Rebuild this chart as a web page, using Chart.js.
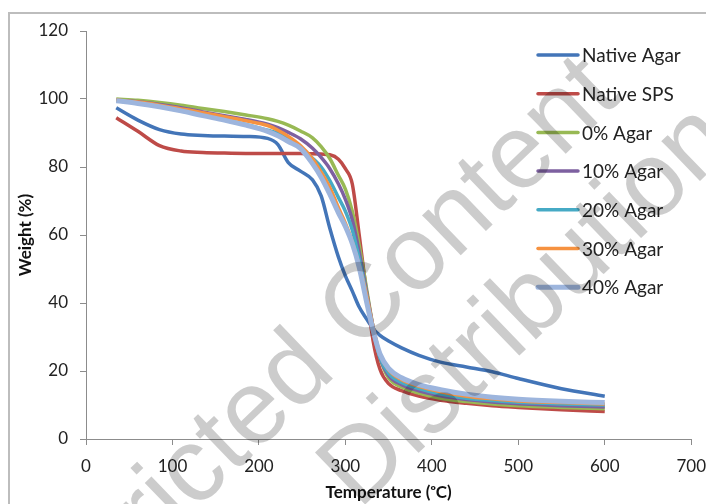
<!DOCTYPE html>
<html>
<head>
<meta charset="utf-8">
<script src="https://cdn.jsdelivr.net/npm/chart.js@4.4.1/dist/chart.umd.min.js"></script>
<style>
  html, body { margin: 0; padding: 0; background: #fff; overflow: hidden; }
  canvas { display: block; }
</style>
</head>
<body>
<!-- a little wider than the window: the figure is cut off at the right edge -->
<canvas id="tgaChart" width="717" height="504"></canvas>
<script>
// temperature (oC)
const temps = [35, 60, 85, 110, 135, 160, 185, 210, 222, 234, 248, 262, 272, 282, 292, 300, 308, 316, 324, 332, 340, 350, 365, 385, 410, 440, 470, 500, 550, 600];

// weight (%) for each sample
const nativeAgar = [97.4, 93.8, 91.0, 89.7, 89.3, 89.1, 89.0, 88.4, 86.6, 81.3, 78.8, 76.2, 71.5, 62.0, 53.5, 48.0, 43.5, 38.8, 35.5, 32.5, 30.5, 28.8, 26.8, 24.6, 22.6, 21.2, 19.8, 17.8, 14.8, 12.6];
const nativeSPS  = [94.5, 90.5, 86.3, 84.7, 84.3, 84.1, 84.0, 84.0, 84.0, 84.0, 84.0, 83.9, 83.8, 83.6, 82.3, 79.5, 75.0, 60.0, 44.0, 29.0, 20.5, 16.3, 14.2, 12.6, 11.4, 10.5, 9.8, 9.3, 8.6, 8.1];
const agar0      = [100.0, 99.6, 99.0, 98.2, 97.2, 96.3, 95.3, 94.2, 93.4, 92.3, 90.6, 88.6, 86.0, 82.5, 77.5, 73.5, 67.0, 57.0, 45.0, 33.0, 24.0, 18.0, 15.3, 13.5, 12.0, 11.0, 10.3, 9.8, 9.3, 8.9];
const agar10     = [99.6, 99.2, 98.4, 97.4, 96.2, 95.1, 94.0, 92.6, 91.6, 90.2, 88.3, 85.5, 82.8, 79.5, 75.0, 70.5, 64.5, 55.0, 44.0, 33.0, 24.0, 18.7, 16.0, 14.2, 12.7, 11.6, 10.9, 10.4, 9.8, 9.4];
const agar20     = [99.5, 98.8, 97.8, 96.6, 95.2, 93.9, 92.5, 90.8, 90.0, 88.5, 85.8, 82.6, 80.0, 76.0, 71.0, 67.0, 61.5, 53.0, 43.0, 32.0, 24.0, 19.3, 16.6, 14.8, 13.2, 12.0, 11.3, 10.8, 10.3, 10.0];
const agar30     = [99.7, 99.1, 98.2, 97.1, 96.0, 94.8, 93.6, 92.2, 90.8, 89.0, 86.3, 82.4, 78.5, 74.0, 68.0, 63.5, 58.0, 51.0, 43.0, 33.0, 25.0, 20.3, 17.4, 15.5, 13.9, 12.6, 11.8, 11.2, 10.7, 10.3];
const agar40     = [99.5, 98.7, 97.7, 96.5, 95.1, 93.8, 92.3, 90.5, 89.2, 87.5, 85.5, 81.0, 77.0, 72.0, 66.5, 62.5, 57.5, 50.5, 41.0, 32.0, 25.0, 20.8, 18.0, 16.0, 14.5, 13.2, 12.3, 11.7, 11.1, 10.7];

const seriesNames = ['Native Agar', 'Native SPS', '0% Agar', '10% Agar', '20% Agar', '30% Agar', '40% Agar'];
const seriesValues = [nativeAgar, nativeSPS, agar0, agar10, agar20, agar30, agar40];
const seriesColors = ['#4375B8', '#BE4B48', '#98B954', '#7D60A0', '#46AAC5', '#F69240', '#9DB5DD'];
const seriesWidths = [3.5, 3.5, 3.5, 3.5, 3.5, 3.5, 5];

const xTicks = [0, 100, 200, 300, 400, 500, 600, 700];
const yTicks = [0, 20, 40, 60, 80, 100, 120];

Chart.defaults.font.family = 'Lato, "Open Sans", sans-serif';
Chart.defaults.color = '#222';

// white page + grey frame around the figure
const frame = {
  id: 'frame',
  beforeDraw(chart) {
    const ctx = chart.ctx;
    ctx.save();
    ctx.fillStyle = '#fff';
    ctx.fillRect(0, 0, chart.width, chart.height);
    ctx.strokeStyle = '#bdbdbd';
    ctx.lineWidth = 2;
    ctx.strokeRect(9, 13, chart.width + 20, chart.height + 20);
    ctx.restore();
  }
};

// legend sits inside the plot, top right
const legendRows = {
  id: 'legendRows',
  afterDatasetsDraw(chart) {
    const ctx = chart.ctx;
    ctx.save();
    ctx.font = '19px Lato, "Open Sans", sans-serif';
    ctx.textBaseline = 'middle';
    ctx.lineCap = 'round';
    chart.data.datasets.forEach((ds, i) => {
      const y = 55 + i * 38.7;
      ctx.strokeStyle = ds.borderColor;
      ctx.lineWidth = ds.borderWidth;
      ctx.beginPath();
      ctx.moveTo(538, y);
      ctx.lineTo(578, y);
      ctx.stroke();
      ctx.fillStyle = '#222';
      ctx.fillText(ds.label, 582, y + 1);
    });
    ctx.restore();
  }
};

// publisher watermark over the figure
const watermark = {
  id: 'watermark',
  afterDraw(chart) {
    const ctx = chart.ctx;
    ctx.save();
    ctx.globalCompositeOperation = 'multiply';
    ctx.fillStyle = '#cccccc';
    ctx.font = '105px "Liberation Sans", Arial, sans-serif';
    ctx.textBaseline = 'alphabetic';
    const capH = 105 * 0.716;
    ctx.translate(360, 300);
    ctx.rotate(-44 * Math.PI / 180);
    const w1 = ctx.measureText('Restricted ').width + ctx.measureText('C').width / 2;
    ctx.fillText('Restricted Content', -w1, capH / 2);
    const w2 = ctx.measureText('D').width / 2;
    ctx.fillText('Distribution', -109 - w2, 113 + capH / 2);
    ctx.restore();
  }
};

new Chart(document.getElementById('tgaChart'), {
  type: 'line',
  data: {
    datasets: seriesNames.map((name, i) => ({
      label: name,
      data: temps.map((t, j) => ({ x: t, y: seriesValues[i][j] })),
      borderColor: seriesColors[i],
      backgroundColor: seriesColors[i],
      borderWidth: seriesWidths[i],
      pointRadius: 0,
      cubicInterpolationMode: 'monotone',
      fill: false,
      order: seriesNames.length - i
    }))
  },
  options: {
    responsive: false,
    animation: false,
    layout: { padding: { left: 0, right: 15, top: 31, bottom: 0 } },
    plugins: {
      legend: { display: false },
      tooltip: { enabled: false }
    },
    scales: {
      x: {
        type: 'linear',
        min: 0,
        max: 700,
        afterBuildTicks: s => { s.ticks = xTicks.map(v => ({ value: v })); },
        afterFit: s => { s.height = 65; },
        ticks: { font: { size: 17 }, padding: 11, maxRotation: 0 },
        grid: { drawOnChartArea: false, drawTicks: true, tickLength: 6, color: '#8c8c8c' },
        border: { color: '#8c8c8c', width: 1 },
        title: {
          display: true,
          text: 'Temperature (\u1d52C)',
          font: { size: 17, weight: 'bold' },
          color: '#111',
          padding: { top: 0, bottom: 1 }
        }
      },
      y: {
        min: 0,
        max: 120,
        afterBuildTicks: s => { s.ticks = yTicks.map(v => ({ value: v })); },
        afterFit: s => { s.width = 86; },
        ticks: { font: { size: 17 }, padding: 12 },
        grid: { drawOnChartArea: false, drawTicks: true, tickLength: 6, color: '#8c8c8c' },
        border: { color: '#8c8c8c', width: 1 },
        title: {
          display: true,
          text: 'Weight (%)',
          font: { size: 17, weight: 'bold' },
          color: '#111',
          padding: { top: 15, bottom: 0 }
        }
      }
    }
  },
  plugins: [frame, legendRows, watermark]
});
</script>
</body>
</html>
